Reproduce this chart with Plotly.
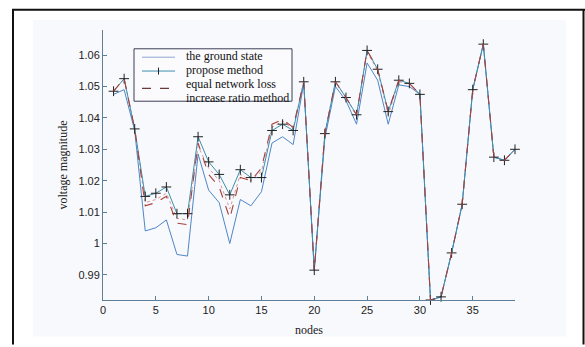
import plotly.graph_objects as go

nodes = list(range(1, 40))

ground_state = [1.0475, 1.0490, 1.0360, 1.0040, 1.0050, 1.0075, 0.9965, 0.9960, 1.0285, 1.0170,
                1.0130, 1.0000, 1.0140, 1.0120, 1.0165, 1.0320, 1.0340, 1.0315, 1.0510, 0.9915,
                1.0335, 1.0500, 1.0455, 1.0380, 1.0575, 1.0520, 1.0380, 1.0505, 1.0500, 1.0475,
                0.9820, 0.9830, 0.9970, 1.0125, 1.0490, 1.0635, 1.0275, 1.0265, 1.0300]

propose_method = [1.0485, 1.0525, 1.0365, 1.0150, 1.0160, 1.0180, 1.0095, 1.0095, 1.0340, 1.0260,
                  1.0220, 1.0155, 1.0235, 1.0210, 1.0210, 1.0360, 1.0380, 1.0360, 1.0515, 0.9915,
                  1.0350, 1.0515, 1.0465, 1.0410, 1.0615, 1.0555, 1.0420, 1.0520, 1.0510, 1.0475,
                  0.9820, 0.9830, 0.9970, 1.0125, 1.0490, 1.0635, 1.0275, 1.0265, 1.0300]

equal_network_loss = [1.0485, 1.0525, 1.0365, 1.0120, 1.0130, 1.0150, 1.0065, 1.0060, 1.0320, 1.0220,
                       1.0180, 1.0080, 1.0210, 1.0200, 1.0240, 1.0380, 1.0395, 1.0370, 1.0515, 0.9915,
                       1.0350, 1.0515, 1.0465, 1.0410, 1.0615, 1.0555, 1.0420, 1.0520, 1.0510, 1.0475,
                       0.9820, 0.9830, 0.9970, 1.0125, 1.0490, 1.0635, 1.0275, 1.0265, 1.0300]

increase_ratio = [1.0485, 1.0525, 1.0365, 1.0130, 1.0140, 1.0160, 1.0080, 1.0075, 1.0310, 1.0240,
                  1.0200, 1.0110, 1.0220, 1.0200, 1.0230, 1.0370, 1.0390, 1.0365, 1.0515, 0.9915,
                  1.0350, 1.0515, 1.0465, 1.0405, 1.0610, 1.0550, 1.0410, 1.0515, 1.0510, 1.0475,
                  0.9820, 0.9830, 0.9970, 1.0125, 1.0490, 1.0635, 1.0275, 1.0265, 1.0300]

x_ticks = [0, 5, 10, 15, 20, 25, 30, 35]
y_ticks = [0.99, 1.00, 1.01, 1.02, 1.03, 1.04, 1.05, 1.06]
y_tick_text = ["0.99", "1", "1.01", "1.02", "1.03", "1.04", "1.05", "1.06"]

legend_labels = ["the ground state", "propose method", "equal network loss", "increase ratio method"]

W, H = 585, 347
L, R, T, B = 103, 70, 30, 44
PW, PH = W - L - R, H - T - B


def xp(px):
    return (px - L) / PW


def yp(py):
    return (H - B - py) / PH


fig = go.Figure()
fig.add_trace(go.Scatter(x=nodes, y=increase_ratio, mode="lines", name=legend_labels[3],
                         line=dict(color="#d49a9a", width=1, dash="dot"), showlegend=False,
                         cliponaxis=False))
fig.add_trace(go.Scatter(x=nodes, y=ground_state, mode="lines", name=legend_labels[0],
                         line=dict(color="#4f86c6", width=1), showlegend=False, cliponaxis=False))
fig.add_trace(go.Scatter(x=nodes, y=propose_method, mode="lines+markers", name=legend_labels[1],
                         line=dict(color="#3f8fae", width=1),
                         marker=dict(symbol="cross-thin", size=7, color="#222",
                                     line=dict(color="#222", width=1)), showlegend=False,
                         cliponaxis=False))
fig.add_trace(go.Scatter(x=nodes, y=equal_network_loss, mode="lines", name=legend_labels[2],
                         line=dict(color="#a8403c", width=1.1, dash="dash"), showlegend=False,
                         cliponaxis=False))

shapes = []
# light panel
shapes.append(dict(type="rect", xref="paper", yref="paper", x0=xp(33), x1=xp(566), y0=yp(340), y1=yp(20),
                   fillcolor="#f8f9fc", line=dict(width=0), layer="below"))
# black frame
frame = dict(color="#111", width=2)
shapes.append(dict(type="line", xref="paper", yref="paper", x0=xp(13), x1=xp(13), y0=yp(9), y1=yp(348), line=frame))
shapes.append(dict(type="line", xref="paper", yref="paper", x0=xp(12), x1=xp(586), y0=yp(9.5), y1=yp(9.5), line=frame))
shapes.append(dict(type="line", xref="paper", yref="paper", x0=xp(583.5), x1=xp(583.5), y0=yp(9), y1=yp(348), line=frame))
# legend box
shapes.append(dict(type="rect", xref="paper", yref="paper", x0=xp(134), x1=xp(292), y0=yp(102), y1=yp(49),
                   fillcolor="#fbfbfd", line=dict(color="#3b3f55", width=1), layer="above"))
# legend samples
shapes.append(dict(type="line", xref="paper", yref="paper", x0=xp(142), x1=xp(175), y0=yp(57.5), y1=yp(57.5),
                   line=dict(color="#8fa6d2", width=1)))
shapes.append(dict(type="line", xref="paper", yref="paper", x0=xp(142), x1=xp(175), y0=yp(71.5), y1=yp(71.5),
                   line=dict(color="#3f8fae", width=1)))
shapes.append(dict(type="line", xref="paper", yref="paper", x0=xp(158.5), x1=xp(158.5), y0=yp(68), y1=yp(75),
                   line=dict(color="#222", width=1)))
shapes.append(dict(type="line", xref="paper", yref="paper", x0=xp(142), x1=xp(175), y0=yp(89), y1=yp(89),
                   line=dict(color="#6a3a3a", width=1.1, dash="dash")))

annotations = []
for lbl, py in zip(legend_labels, [56.5, 70.75, 85, 99.25]):
    annotations.append(dict(text=lbl, xref="paper", yref="paper", x=xp(185), y=yp(py),
                            xanchor="left", yanchor="middle", showarrow=False, borderpad=0,
                            font=dict(family="Liberation Serif", size=12, color="#111")))

axis_line = "#5d7f98"
fig.update_layout(
    width=W, height=H,
    margin=dict(l=L, r=R, t=T, b=B, pad=0),
    paper_bgcolor="white",
    plot_bgcolor="rgba(0,0,0,0)",
    showlegend=False,
    shapes=shapes,
    annotations=annotations,
    xaxis=dict(range=[0, 39], tickvals=x_ticks, ticks="inside", ticklen=4, tickcolor=axis_line,
               showline=True, linecolor=axis_line, linewidth=1, showgrid=False, zeroline=False,
               tickfont=dict(family="Liberation Sans", size=11, color="#222"),
               title=dict(text="nodes", standoff=10,
                          font=dict(family="Liberation Serif", size=12, color="#222"))),
    yaxis=dict(range=[0.982, 1.068], tickvals=y_ticks, ticktext=y_tick_text, ticks="inside", ticklen=4,
               tickcolor=axis_line, showline=True, linecolor=axis_line, linewidth=1, showgrid=False,
               zeroline=False, tickfont=dict(family="Liberation Sans", size=11, color="#222"),
               title=dict(text="voltage magnitude", standoff=8,
                          font=dict(family="Liberation Serif", size=12, color="#222"))),
)

fig.write_html("out.html", config={"displayModeBar": False},
               post_script="document.body.style.margin='0px';document.body.style.overflow='hidden';")
